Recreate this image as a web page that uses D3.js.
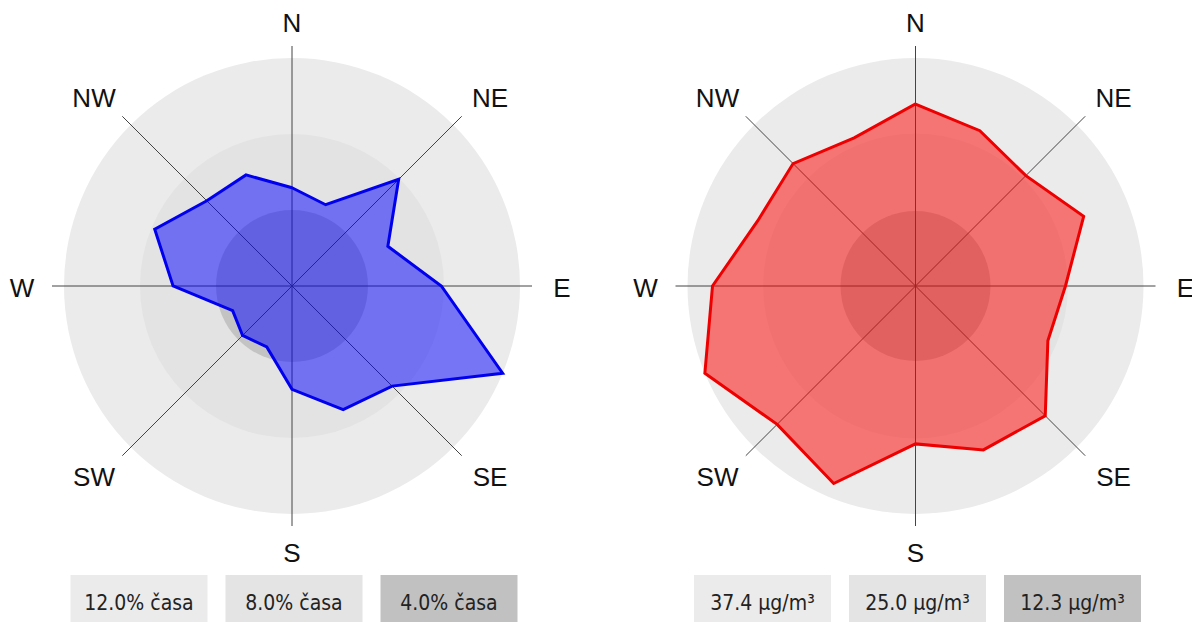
<!DOCTYPE html>
<html lang="sk">
<head>
    <meta charset="UTF-8">
    <title>Veterná ružica</title>
    <script src="https://d3js.org/d3.v7.min.js"></script>
    <style>
        body {
            margin: 0;
            background: #fff;
        }
        .dir-label {
            font-family: "Liberation Sans", Arial, sans-serif;
            font-size: 26px;
            fill: #111;
        }
        .legend-text {
            font-family: "DejaVu Sans Condensed", "DejaVu Sans", sans-serif;
            font-size: 21px;
            fill: #222;
        }
        .axis-line {
            stroke: #444;
            stroke-width: 1px;
        }
    </style>
</head>
<body>
    <svg id="chart" width="1192" height="622"></svg>
    <script>
        // 16 wind directions, clockwise from north
        const directions = ["N", "NNE", "NE", "ENE", "E", "ESE", "SE", "SSE",
                            "S", "SSW", "SW", "WSW", "W", "WNW", "NW", "NNW"];
        const mainLabels = ["N", "NE", "E", "SE", "S", "SW", "W", "NW"];

        // share of time the wind blows from each direction (%)
        const timeShare = [5.17, 4.63, 7.94, 5.46, 7.86, 12.0, 7.45, 7.04,
                           5.44, 3.47, 3.68, 3.38, 6.26, 7.82, 6.34, 6.33];
        const timeTicks = [12.0, 8.0, 4.0];
        const timeTickLabels = ["12.0% časa", "8.0% časa", "4.0% časa"];

        // mean concentration for each direction (µg/m³)
        const concentration = [29.85, 27.57, 25.6, 29.86, 24.6, 23.5, 30.1, 29.1,
                               25.9, 35.07, 32.1, 37.4, 33.3, 28.0, 28.4, 26.3];
        const concTicks = [37.4, 25.0, 12.3];
        const concTickLabels = ["37.4 µg/m³", "25.0 µg/m³", "12.3 µg/m³"];

        const ringColors = ["#ebebeb", "#e3e3e3", "#c3c3c3"];
        const boxColors = ["#ebebeb", "#e4e4e4", "#c1c1c1"];

        const svg = d3.select("#chart");
        const outerR = 228;
        const axisLen = 240;

        function drawRose(cx, values, ticks, tickLabels, fill, stroke) {
            const cy = 286;
            const g = svg.append("g").attr("transform", `translate(${cx},${cy})`);
            const r = d3.scaleLinear().domain([0, ticks[0]]).range([0, outerR]);
            const angle = d3.scaleLinear().domain([0, directions.length]).range([0, 2 * Math.PI]);

            // rings
            g.selectAll(".ring")
                .data(ticks)
                .enter()
                .append("circle")
                .attr("r", d => r(d))
                .attr("fill", (d, i) => ringColors[i]);

            // axis lines for the 8 main directions
            const mainAngles = d3.range(8).map(i => i * Math.PI / 4);
            g.selectAll(".axis-line")
                .data(mainAngles)
                .enter()
                .append("line")
                .attr("class", "axis-line")
                .attr("x1", 0).attr("y1", 0)
                .attr("x2", a => axisLen * Math.sin(a))
                .attr("y2", a => -axisLen * Math.cos(a));

            // data polygon
            const radial = d3.lineRadial()
                .angle((d, i) => angle(i))
                .radius(d => r(d))
                .curve(d3.curveLinearClosed);

            g.append("path")
                .attr("d", radial(values))
                .attr("fill", fill)
                .attr("fill-opacity", 0.5)
                .attr("stroke", stroke)
                .attr("stroke-width", 3)
                .attr("stroke-linejoin", "miter");

            // direction labels
            g.selectAll(".dir-label")
                .data(mainLabels)
                .enter()
                .append("text")
                .attr("class", "dir-label")
                .attr("x", (d, i) => Math.sin(mainAngles[i]) * (i % 2 ? 280 : 270))
                .attr("y", (d, i) => -Math.cos(mainAngles[i]) * (i % 2 ? 268 : 265) + 1.5)
                .attr("text-anchor", "middle")
                .attr("dominant-baseline", "central")
                .text(d => d);

            // legend boxes under the rose
            const boxW = 137, gap = 18;
            const totalW = boxW * 3 + gap * 2;
            const legend = svg.append("g")
                .attr("transform", `translate(${cx - totalW / 2 + 2},575)`);
            const box = legend.selectAll(".box")
                .data(tickLabels)
                .enter()
                .append("g")
                .attr("transform", (d, i) => `translate(${i * (boxW + gap)},0)`);
            box.append("rect")
                .attr("width", boxW)
                .attr("height", 50)
                .attr("fill", (d, i) => boxColors[i]);
            box.append("text")
                .attr("class", "legend-text")
                .attr("x", boxW / 2)
                .attr("y", 28)
                .attr("text-anchor", "middle")
                .attr("dominant-baseline", "central")
                .text(d => d);
        }

        drawRose(292, timeShare, timeTicks, timeTickLabels, "#0000ff", "#0000ee");
        drawRose(915.5, concentration, concTicks, concTickLabels, "#ff0000", "#ee0000");
    </script>
</body>
</html>
